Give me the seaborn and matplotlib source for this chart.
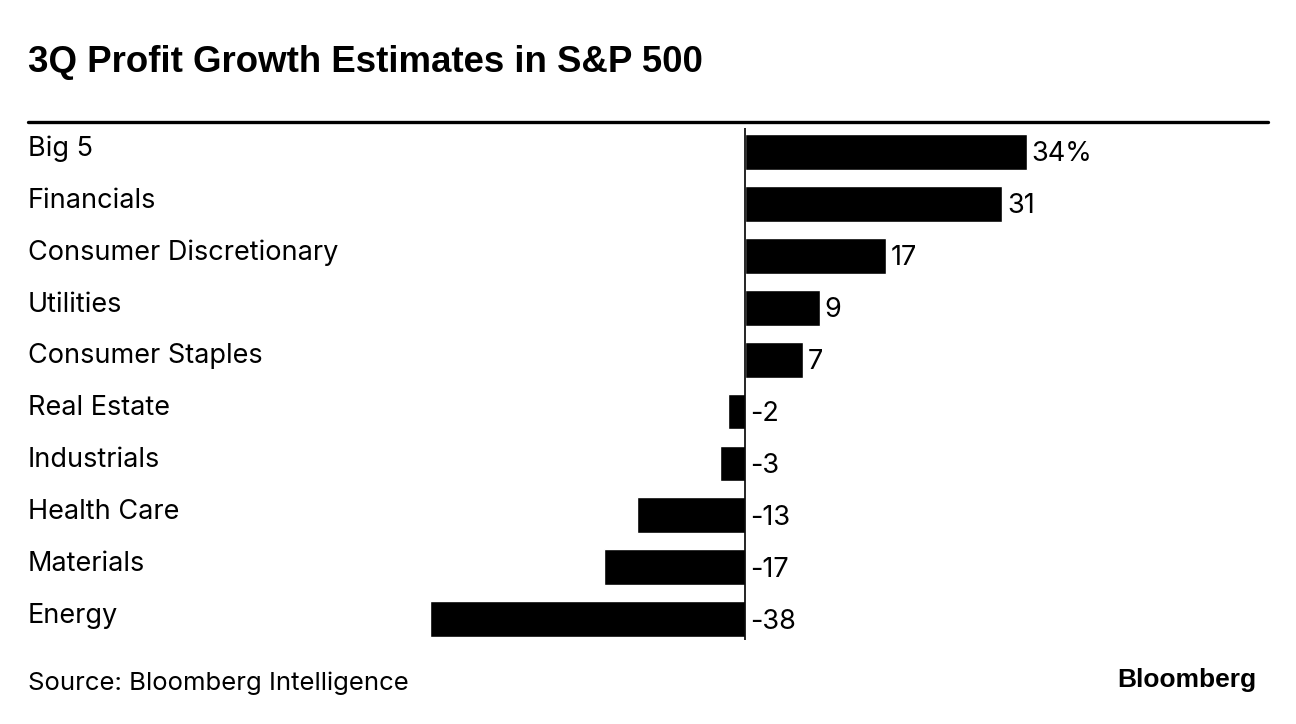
import matplotlib
matplotlib.use("Agg")
import matplotlib.pyplot as plt
import matplotlib.transforms as mtransforms
import seaborn as sns
import pandas as pd

# data
sectors = ["Big 5", "Financials", "Consumer Discretionary", "Utilities",
           "Consumer Staples", "Real Estate", "Industrials", "Health Care",
           "Materials", "Energy"]
growth = [34, 31, 17, 9, 7, -2, -3, -13, -17, -38]
value_labels = ["34%", "31", "17", "9", "7", "-2", "-3", "-13", "-17", "-38"]

df = pd.DataFrame({"sector": sectors, "growth": growth})

sns.set_theme(style="white")
plt.rcParams["font.family"] = ["Inter", "DejaVu Sans"]
plt.rcParams["text.color"] = "black"

W, H = 1296, 724
fig = plt.figure(figsize=(W / 100, H / 100), dpi=100)

# axes placed so zero sits at x=745px, rows from 128px to 640px
ax = fig.add_axes([28 / W, (H - 640) / H, (1268 - 28) / W, (640 - 128) / H])
sns.barplot(data=df, x="growth", y="sector", color="black", saturation=1,
            width=0.69, ax=ax, orient="h")
ax.set_xlim(-86.5, 63.1)
ax.set_ylim(9.4, -0.46)
ax.axvline(0, color="black", lw=1.2)
for s in ax.spines.values():
    s.set_visible(False)
ax.set_xticks([])
ax.set_yticks([])
ax.set_xlabel("")
ax.set_ylabel("")

trans = mtransforms.blended_transform_factory(ax.transAxes, ax.transData)
for i, (name, val, lab) in enumerate(zip(sectors, growth, value_labels)):
    ax.text(0, i - 0.06, name, transform=trans, ha="left", va="center",
            fontsize=19.5, color="black")
    xpos = val if val > 0 else 0
    ax.text(xpos + 0.6, i + 0.05, lab, ha="left", va="center",
            fontsize=19.5, color="black")

# title, rule, footer
fig.text(28 / W, 1 - 62 / H, "3Q Profit Growth Estimates in S&P 500",
         fontsize=26.4, fontweight="bold", ha="left", va="center",
         family=["Liberation Sans", "DejaVu Sans"], color="black")
fig.add_artist(plt.Line2D([28 / W, 1268 / W], [1 - 122 / H, 1 - 122 / H],
                          color="black", lw=2.4, transform=fig.transFigure))
fig.text(28 / W, 1 - 683 / H, "Source: Bloomberg Intelligence",
         fontsize=18.5, ha="left", va="center", color="black")
fig.text(1256 / W, 1 - 680 / H, "Bloomberg", fontsize=19, fontweight="bold",
         ha="right", va="center", color="black",
         family=["Liberation Sans", "DejaVu Sans"])

fig.savefig("out.png", dpi=100)
